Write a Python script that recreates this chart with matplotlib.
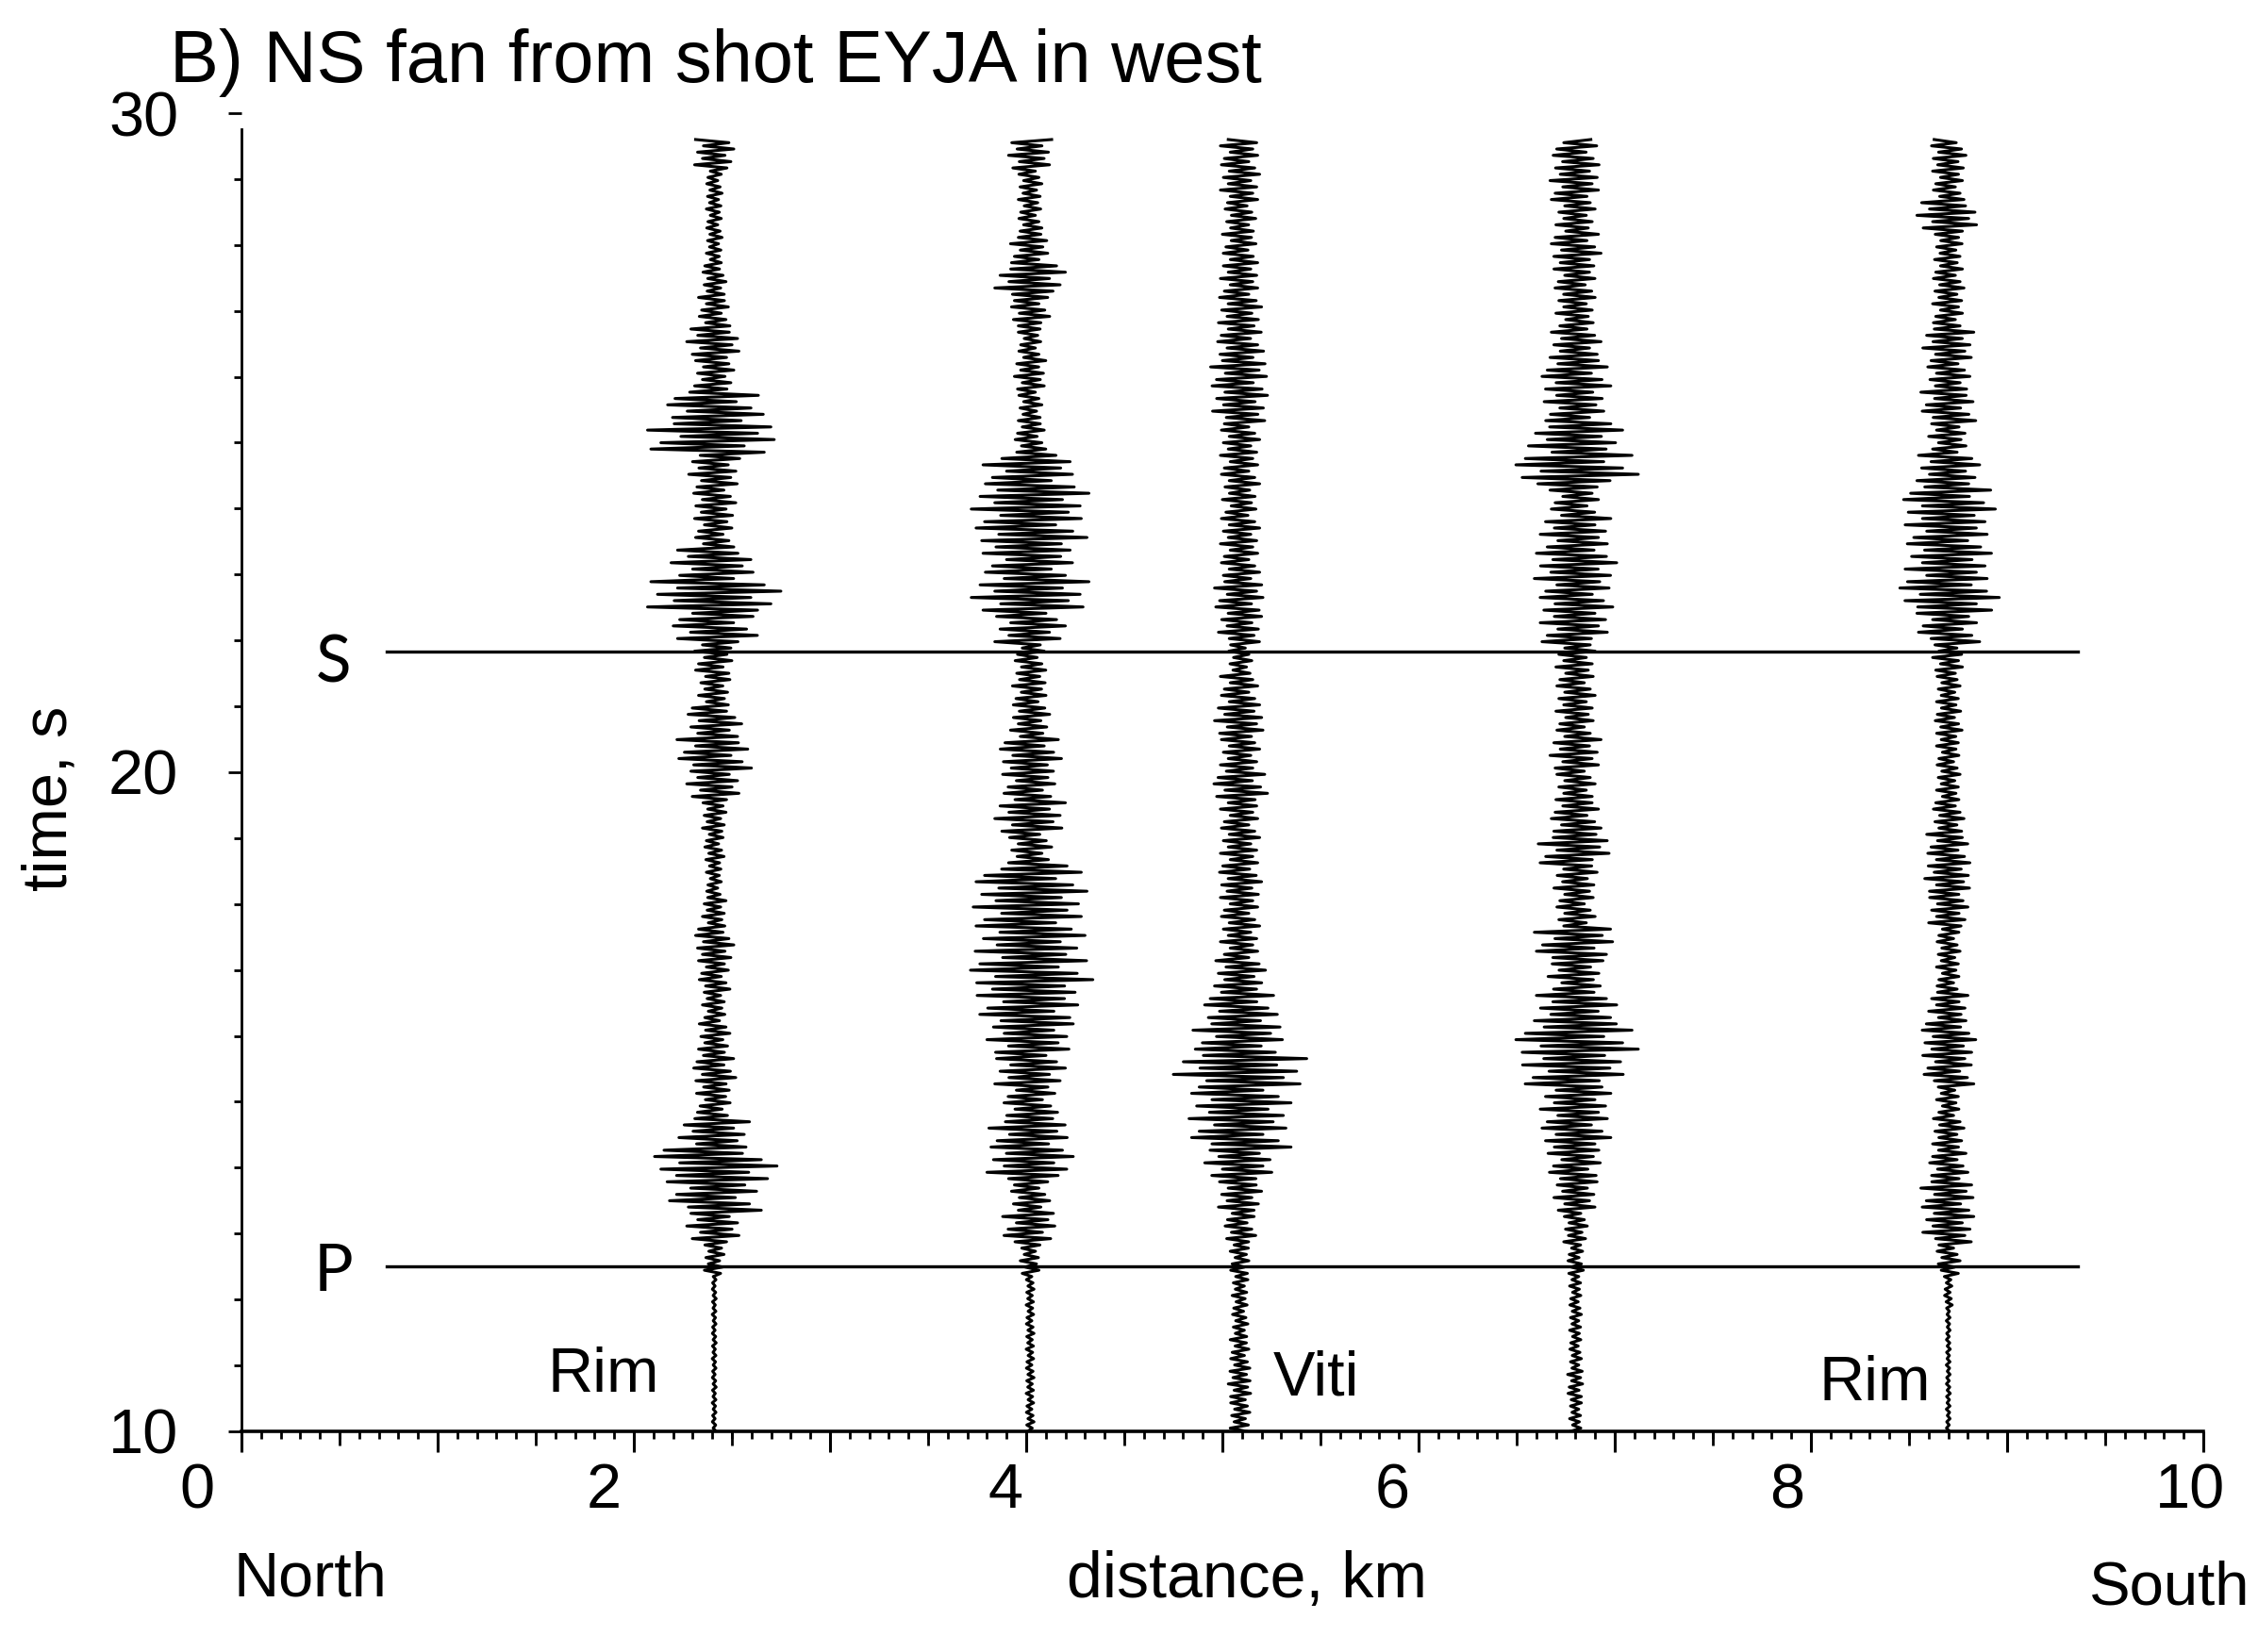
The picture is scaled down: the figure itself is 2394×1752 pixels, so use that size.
import numpy as np
import matplotlib.pyplot as plt
from matplotlib.ticker import MultipleLocator
from matplotlib.transforms import ScaledTranslation

plt.rcParams["font.family"] = ["Liberation Sans", "DejaVu Sans"]

# station positions along the profile (km)
trace_x = [2.41, 4.02, 5.09, 6.80, 8.70]

# envelope half-width of each trace (km), one value every 0.49 s from 10 s up
t_samples = 10 + 0.49 * np.arange(41)
amp_1 = [0.01, 0.01, 0.01, 0.01, 0.01, 0.05, 0.14, 0.24, 0.32, 0.18, 0.09,
         0.11, 0.08, 0.06, 0.08, 0.10, 0.06, 0.04, 0.05, 0.06, 0.14, 0.19,
         0.14, 0.08, 0.10, 0.22, 0.34, 0.22, 0.10, 0.11, 0.13, 0.34, 0.25,
         0.10, 0.14, 0.08, 0.06, 0.04, 0.04, 0.04, 0.10]
amp_2 = [0.02, 0.02, 0.02, 0.02, 0.02, 0.05, 0.14, 0.10, 0.22, 0.21, 0.14,
         0.18, 0.22, 0.27, 0.32, 0.28, 0.29, 0.29, 0.11, 0.18, 0.14, 0.16,
         0.10, 0.09, 0.08, 0.18, 0.30, 0.24, 0.29, 0.30, 0.24, 0.08, 0.06,
         0.08, 0.06, 0.10, 0.18, 0.10, 0.06, 0.06, 0.11]
amp_3 = [0.05, 0.06, 0.05, 0.04, 0.04, 0.05, 0.08, 0.11, 0.18, 0.26, 0.26,
         0.34, 0.24, 0.19, 0.13, 0.10, 0.10, 0.11, 0.10, 0.10, 0.14, 0.10,
         0.13, 0.10, 0.06, 0.11, 0.13, 0.10, 0.10, 0.09, 0.10, 0.10, 0.14,
         0.15, 0.12, 0.11, 0.10, 0.09, 0.08, 0.10, 0.10]
amp_4 = [0.03, 0.04, 0.03, 0.03, 0.03, 0.04, 0.06, 0.11, 0.14, 0.18, 0.18,
         0.27, 0.32, 0.21, 0.14, 0.21, 0.10, 0.11, 0.19, 0.13, 0.10, 0.13,
         0.10, 0.10, 0.10, 0.18, 0.19, 0.21, 0.18, 0.13, 0.32, 0.24, 0.16,
         0.18, 0.13, 0.10, 0.11, 0.13, 0.10, 0.13, 0.12]
amp_5 = [0.01, 0.01, 0.01, 0.01, 0.02, 0.06, 0.13, 0.14, 0.10, 0.08, 0.06,
         0.13, 0.14, 0.10, 0.06, 0.06, 0.10, 0.12, 0.11, 0.08, 0.06, 0.06,
         0.07, 0.06, 0.08, 0.16, 0.26, 0.22, 0.22, 0.24, 0.16, 0.10, 0.14,
         0.11, 0.13, 0.08, 0.08, 0.07, 0.16, 0.08, 0.09]
amps = [amp_1, amp_2, amp_3, amp_4, amp_5]

# picked P and S arrivals (s) and the extent of the pick lines (km)
p_time = 12.5
s_time = 21.83
pick_x = [0.74, 9.36]

xtick_labels = ["0", "", "2", "", "4", "", "6", "", "8", "", "10"]

# wiggle shape drawn inside each envelope (10 swings per sample)
n_sub = 10
swing = np.array([1.0, -0.55, 0.75, -0.95, 0.45, -0.8, 0.9,
                  -0.5, 0.65, -1.0, 0.85, -0.6, 0.55, -0.85])

fig = plt.figure(figsize=(11.97, 8.76), dpi=200)
ax = fig.add_axes([0.1069, 0.1336, 0.8689, 0.7979])

for k, (x0, amp) in enumerate(zip(trace_x, amps)):
    env = np.repeat(amp, n_sub)
    ts = np.linspace(t_samples[0], t_samples[-1], len(env))
    wig = np.resize(np.roll(swing, 3 * k), len(env))
    ax.plot(x0 + env * wig, ts, color="black", lw=1.1)

for t in (p_time, s_time):
    ax.plot(pick_x, [t, t], color="black", lw=1.2)

ax.text(0.47, p_time - 0.09, "P", fontsize=25, ha="center", va="center",
        family=["Lato", "DejaVu Sans"])
ax.text(0.47, s_time - 0.19, "S", fontsize=25, ha="center", va="center",
        family=["Lato", "DejaVu Sans"])

ax.text(2.13, 10.84, "Rim", fontsize=24, ha="right", va="center")
ax.text(5.26, 10.80, "Viti", fontsize=24, ha="left", va="center")
ax.text(8.61, 10.72, "Rim", fontsize=24, ha="right", va="center")

ax.set_xlim(0, 10)
ax.set_ylim(10, 30)
for side in ("top", "right"):
    ax.spines[side].set_visible(False)
ax.spines["left"].set_bounds(10, 29.75)
ax.spines["left"].set_linewidth(1.0)
ax.spines["bottom"].set_linewidth(1.3)

ax.set_xticks(range(11))
ax.set_xticklabels(xtick_labels)
ax.xaxis.set_minor_locator(MultipleLocator(0.1))
ax.tick_params(axis="x", which="major", length=8, width=1.1, labelsize=24, pad=4)
ax.tick_params(axis="x", which="minor", length=3, width=1.0)
label_shift_pt = [-17, -14, -11.5, -10, -8, -6, -10, -5, -9, 0, -5]
for lab, dx in zip(ax.get_xticklabels(), label_shift_pt):
    lab.set_transform(lab.get_transform() + ScaledTranslation(dx / 72, 0, fig.dpi_scale_trans))

half = ax.secondary_xaxis("bottom")
half.set_xticks(np.arange(0.5, 10, 1))
half.tick_params(length=5.5, width=1.0, labelbottom=False)
half.spines["bottom"].set_visible(False)

ax.set_yticks([10, 20, 30])
ax.yaxis.set_minor_locator(MultipleLocator(1))
ax.tick_params(axis="y", which="major", length=5, width=1.0, labelsize=24, pad=19)
ax.tick_params(axis="y", which="minor", length=3, width=1.0)

fig.text(0.0752, 0.962, "B) NS fan from shot EYJA in west", fontsize=28, va="center")
fig.text(0.0223, 0.5166, "time, s", fontsize=24, rotation=90, ha="center", va="center")
fig.text(0.1032, 0.0434, "North", fontsize=24, va="center")
fig.text(0.5522, 0.0434, "distance, km", fontsize=24.5, ha="center", va="center")
fig.text(0.9965, 0.0388, "South", fontsize=23.5, ha="right", va="center")

fig.savefig("out.png", dpi=200)
